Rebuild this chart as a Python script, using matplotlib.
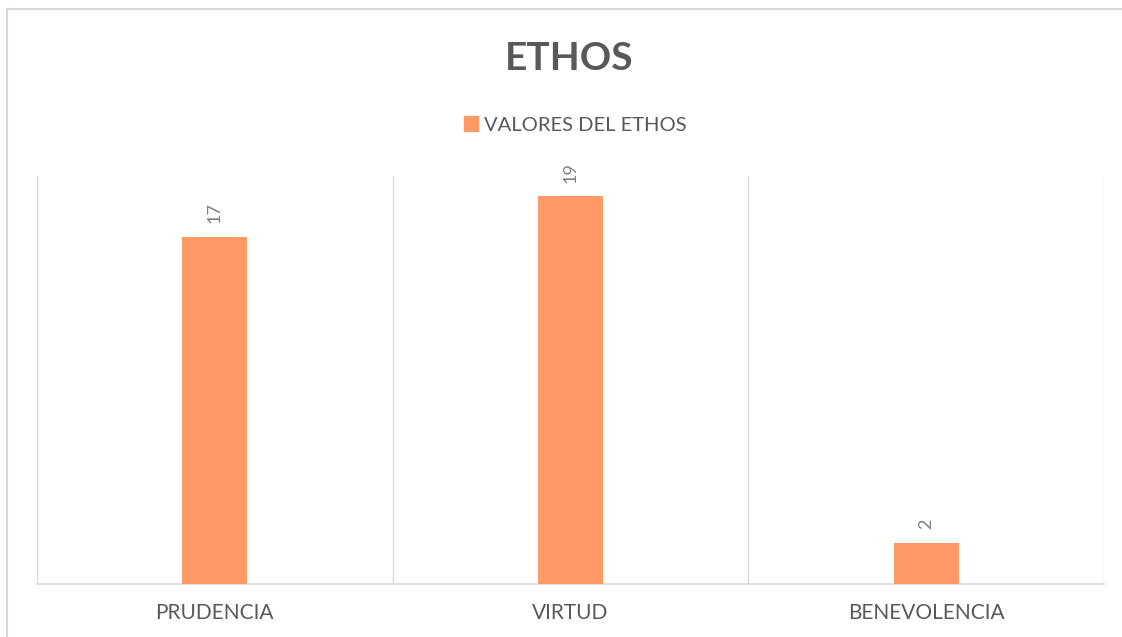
import matplotlib
matplotlib.use("Agg")
import matplotlib.pyplot as plt
from matplotlib.lines import Line2D
from matplotlib.patches import Patch

categories = ["PRUDENCIA", "VIRTUD", "BENEVOLENCIA"]
values = [17, 19, 2]
series_name = "VALORES DEL ETHOS"
title = "ETHOS"

BAR = "#FF9A66"
GRID = "#D9D9D9"
TXT = "#595959"
LBL = "#7F7F7F"

plt.rcParams["font.family"] = ["Lato", "DejaVu Sans"]

W, H = 1122, 637
fig = plt.figure(figsize=(W / 100, H / 100), dpi=100)
fig.patch.set_facecolor("white")

# outer chart border (top and left visible)
fig.add_artist(Line2D([7 / W, 7 / W], [0, 1 - 9 / H], color=GRID, lw=1.5, transform=fig.transFigure))
fig.add_artist(Line2D([7 / W, 1], [1 - 9 / H, 1 - 9 / H], color=GRID, lw=1.5, transform=fig.transFigure))

ax = fig.add_axes([37 / W, 53 / H, (1104 - 37) / W, (584 - 176) / H])
x = list(range(len(categories)))
bars = ax.bar(x, values, width=0.183, color=BAR, zorder=3)
ax.set_xlim(-0.5, len(categories) - 0.5)
ax.set_ylim(0, 20)

for b, v in zip(bars, values):
    ax.annotate(str(v), (b.get_x() + b.get_width() / 2, b.get_height()),
                xytext=(0, 10), textcoords="offset points", rotation=90,
                ha="center", va="bottom", fontsize=13, color=LBL)

for xv in [i - 0.5 for i in range(len(categories) + 1)]:
    ax.axvline(xv, color=GRID, lw=1, zorder=1)

for s in ["top", "left", "right"]:
    ax.spines[s].set_visible(False)
ax.spines["bottom"].set_color(GRID)
ax.spines["bottom"].set_linewidth(1.2)
ax.set_yticks([])
ax.set_xticks(x)
ax.set_xticklabels(categories, fontsize=15, color=TXT)
ax.tick_params(axis="x", length=0, pad=14)

fig.text(569 / W, 1 - 59 / H, title, ha="center", va="center", fontsize=28,
         fontweight="bold", color=TXT)

fig.legend(handles=[Patch(color=BAR, label=series_name)], loc="center",
           bbox_to_anchor=(575 / W, 1 - 125 / H), frameon=False, fontsize=14.5,
           labelcolor=TXT, handlelength=0.7, handleheight=0.7, handletextpad=0.3)

fig.savefig("out.png", dpi=100, facecolor="white")
